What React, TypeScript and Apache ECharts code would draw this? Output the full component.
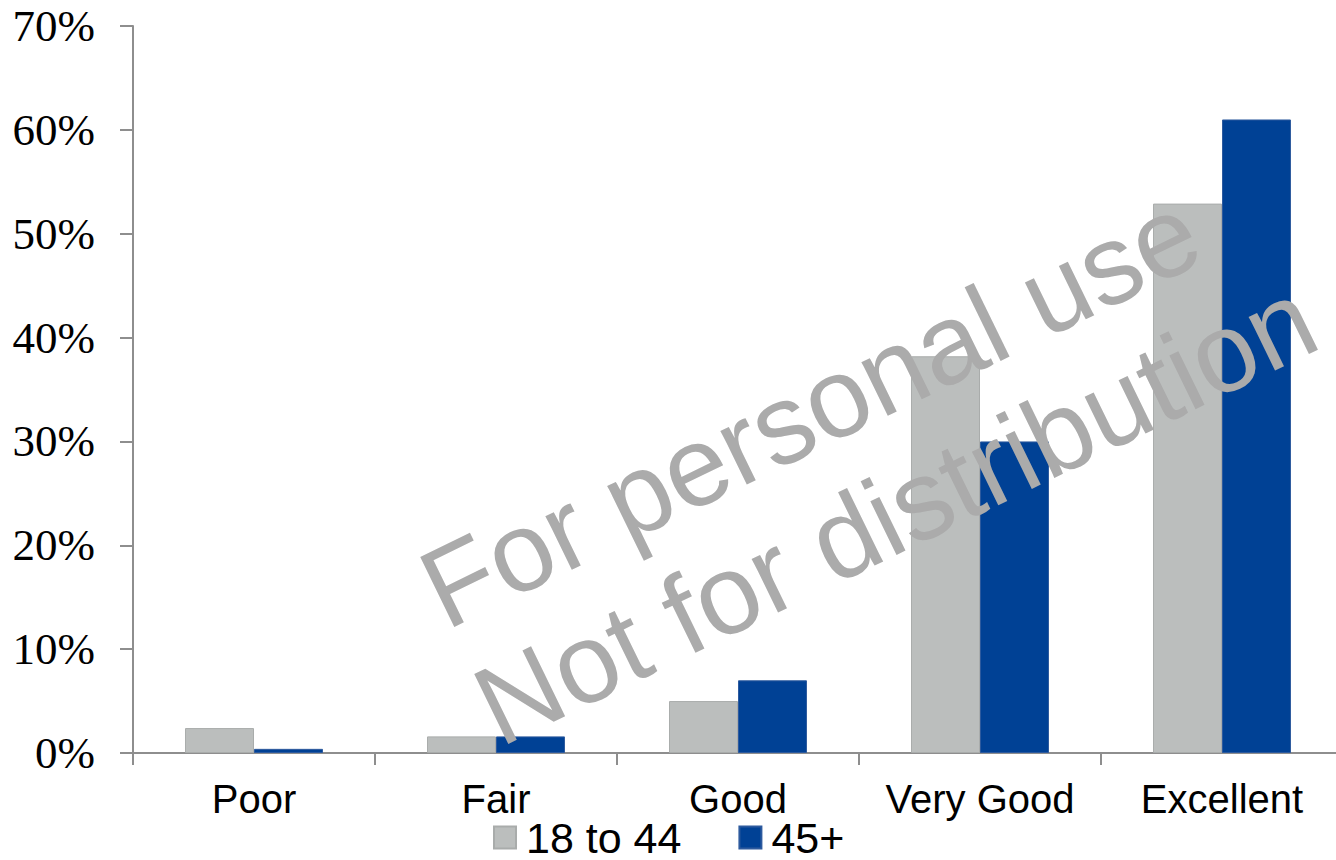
import React, { useEffect, useRef } from "react";
import * as echarts from "echarts";

// Self-rated health by age group (percent of respondents)
const categories = ["Poor", "Fair", "Good", "Very Good", "Excellent"];
const seriesNames = ["18 to 44", "45+"];
const youngerValues = [2.4, 1.6, 5.0, 38.2, 52.9];
const olderValues = [0.4, 1.6, 7.0, 30.0, 61.0];
const yTicks = { min: 0, max: 70, interval: 10 };
const watermarkLines = ["For personal use", "Not for distribution"];

const GRAY = "#BBBEBD";
const BLUE = "#004195";
const AXIS = "#8E8E8E";

export default function App() {
  const ref = useRef<HTMLDivElement>(null);

  useEffect(() => {
    if (!ref.current) return;
    const chart = echarts.init(ref.current, undefined, { renderer: "svg" });
    const angle = (26 * Math.PI) / 180;
    const wmFont = 113;

    chart.setOption({
      animation: false,
      backgroundColor: "#ffffff",
      grid: { left: 133, top: 26, width: 1210, height: 727, containLabel: false },
      legend: {
        left: 493,
        top: 816,
        padding: 0,
        itemWidth: 22,
        itemHeight: 22,
        itemGap: 57,
        icon: "rect",
        textStyle: {
          fontFamily: "Liberation Sans",
          fontSize: 43,
          lineHeight: 42,
          color: "#000",
          padding: [0, 0, 0, 5],
        },
        data: seriesNames,
      },
      xAxis: {
        type: "category",
        data: categories,
        boundaryGap: true,
        axisLine: { show: true, lineStyle: { color: AXIS, width: 2 } },
        axisTick: { show: true, alignWithLabel: false, length: 12, lineStyle: { color: AXIS, width: 2 } },
        axisLabel: {
          fontFamily: "Liberation Sans",
          fontSize: 40,
          color: "#000",
          margin: 26,
          interval: 0,
        },
        splitLine: { show: false },
      },
      yAxis: {
        type: "value",
        min: yTicks.min,
        max: yTicks.max,
        interval: yTicks.interval,
        axisLine: { show: true, lineStyle: { color: AXIS, width: 2 } },
        axisTick: { show: true, length: 13, lineStyle: { color: AXIS, width: 2 } },
        axisLabel: {
          formatter: "{value}%",
          fontFamily: "Liberation Serif",
          fontSize: 45,
          color: "#000",
          margin: 38,
        },
        splitLine: { show: false },
      },
      series: [
        {
          name: seriesNames[0],
          type: "bar",
          data: youngerValues,
          barGap: "0%",
          barCategoryGap: "43%",
          itemStyle: { color: GRAY, borderColor: "#A9ACAB", borderWidth: 1 },
        },
        {
          name: seriesNames[1],
          type: "bar",
          data: olderValues,
          barGap: "0%",
          barCategoryGap: "43%",
          itemStyle: { color: BLUE, borderColor: "#2D5A9E", borderWidth: 1 },
        },
      ],
      graphic: [
        {
          type: "text",
          x: 429,
          y: 596,
          rotation: angle,
          z: 100,
          silent: true,
          style: {
            text: watermarkLines[0],
            fontFamily: "Liberation Sans",
            fontSize: wmFont,
            fill: "#ABABAB",
            align: "left",
            verticalAlign: "middle",
          },
        },
        {
          type: "text",
          x: 483,
          y: 713,
          rotation: angle,
          z: 100,
          silent: true,
          style: {
            text: watermarkLines[1],
            fontFamily: "Liberation Sans",
            fontSize: wmFont,
            fill: "#ABABAB",
            align: "left",
            verticalAlign: "middle",
          },
        },
      ],
    });

    return () => chart.dispose();
  }, []);

  return (
    <div
      style={{
        position: "fixed",
        left: 0,
        top: 0,
        width: 1336,
        height: 860,
        overflow: "hidden",
        background: "#fff",
      }}
    >
      <div ref={ref} style={{ width: 1360, height: 860 }} />
    </div>
  );
}
